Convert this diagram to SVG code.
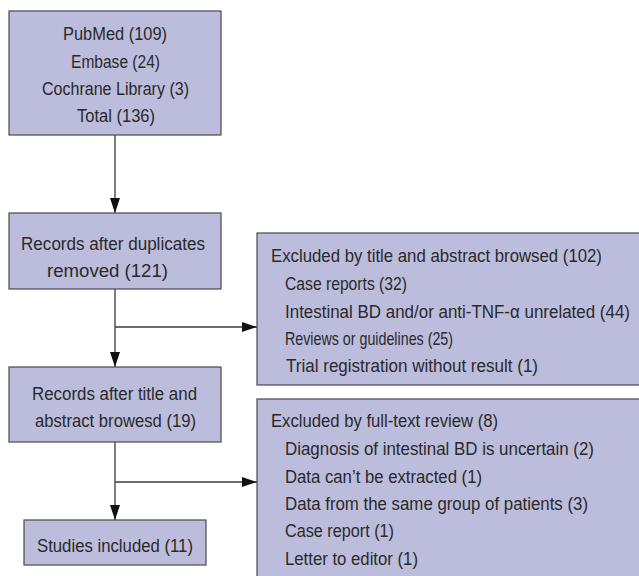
<svg xmlns="http://www.w3.org/2000/svg" width="639" height="576" viewBox="0 0 639 576">
<defs>
<style>
.box{fill:#bcbcdc;stroke:#4a4a4a;stroke-width:1.2}
text{font-family:"Liberation Sans",Arial,sans-serif;font-size:18.5px;fill:#2a2a2a}
.c{text-anchor:middle}
.ln{stroke:#3a3a3a;stroke-width:1.3;fill:none}
</style>
<marker id="ah" markerWidth="15" markerHeight="10" refX="15" refY="5" orient="auto" markerUnits="userSpaceOnUse" viewBox="0 0 15 10">
<path d="M0,0 L15,5 L0,10 Z" fill="#111"/>
</marker>
</defs>
<rect width="639" height="576" fill="#fff"/>
<g id="connectors">
<line class="ln" x1="115" y1="135" x2="115" y2="213" marker-end="url(#ah)"/>
<line class="ln" x1="115" y1="289" x2="115" y2="367" marker-end="url(#ah)"/>
<line class="ln" x1="115" y1="327" x2="257" y2="327" marker-end="url(#ah)"/>
<line class="ln" x1="115" y1="442" x2="115" y2="520" marker-end="url(#ah)"/>
<line class="ln" x1="115" y1="482" x2="257" y2="482" marker-end="url(#ah)"/>
</g>
<g id="sources">
<rect class="box" x="9" y="11" width="212" height="124"/>
<text class="c" transform="translate(115,40) scale(0.88,1)" textLength="118.2" lengthAdjust="spacingAndGlyphs">PubMed (109)</text>
<text class="c" transform="translate(115.5,68) scale(0.88,1)" textLength="101.1" lengthAdjust="spacingAndGlyphs">Embase (24)</text>
<text class="c" transform="translate(115.5,95) scale(0.88,1)" textLength="167" lengthAdjust="spacingAndGlyphs">Cochrane Library (3)</text>
<text class="c" transform="translate(116,122) scale(0.88,1)" textLength="88.6" lengthAdjust="spacingAndGlyphs">Total (136)</text>
</g>
<g id="dedup">
<rect class="box" x="9" y="213" width="212" height="76"/>
<text class="c" transform="translate(113,250) scale(0.88,1)" textLength="209" lengthAdjust="spacingAndGlyphs">Records after duplicates</text>
<text class="c" transform="translate(107.5,277) scale(0.88,1)" textLength="137.5" lengthAdjust="spacingAndGlyphs">removed (121)</text>
</g>
<g id="screened">
<rect class="box" x="9" y="367" width="212" height="75"/>
<text class="c" transform="translate(114.5,400) scale(0.88,1)" textLength="187.5" lengthAdjust="spacingAndGlyphs">Records after title and</text>
<text class="c" transform="translate(115.5,427) scale(0.88,1)" textLength="183" lengthAdjust="spacingAndGlyphs">abstract browesd (19)</text>
</g>
<g id="included">
<rect class="box" x="24" y="520" width="182" height="45"/>
<text class="c" transform="translate(115,552) scale(0.88,1)" textLength="177.3" lengthAdjust="spacingAndGlyphs">Studies included (11)</text>
</g>
<g id="excluded1">
<rect class="box" x="257" y="233" width="400" height="152"/>
<text transform="translate(271,262) scale(0.88,1)" textLength="376.1" lengthAdjust="spacingAndGlyphs">Excluded by title and abstract browsed (102)</text>
<text transform="translate(285,290) scale(0.88,1)" textLength="138.6" lengthAdjust="spacingAndGlyphs">Case reports (32)</text>
<text transform="translate(285,318) scale(0.88,1)" textLength="392" lengthAdjust="spacingAndGlyphs">Intestinal BD and/or anti-TNF-α unrelated (44)</text>
<text transform="translate(285,345) scale(0.78,1)" textLength="215.4" lengthAdjust="spacingAndGlyphs">Reviews or guidelines (25)</text>
<text transform="translate(286,372) scale(0.88,1)" textLength="286.4" lengthAdjust="spacingAndGlyphs">Trial registration without result (1)</text>
</g>
<g id="excluded2">
<rect class="box" x="257" y="399" width="400" height="200"/>
<text transform="translate(271,427) scale(0.88,1)" textLength="258" lengthAdjust="spacingAndGlyphs">Excluded by full-text review (8)</text>
<text transform="translate(285,455) scale(0.88,1)" textLength="351.1" lengthAdjust="spacingAndGlyphs">Diagnosis of intestinal BD is uncertain (2)</text>
<text transform="translate(285,483) scale(0.88,1)" textLength="223.9" lengthAdjust="spacingAndGlyphs">Data can’t be extracted (1)</text>
<text transform="translate(285,510) scale(0.88,1)" textLength="344.3" lengthAdjust="spacingAndGlyphs">Data from the same group of patients (3)</text>
<text transform="translate(285,537) scale(0.88,1)" textLength="123.9" lengthAdjust="spacingAndGlyphs">Case report (1)</text>
<text transform="translate(285,565) scale(0.88,1)" textLength="151.1" lengthAdjust="spacingAndGlyphs">Letter to editor (1)</text>
</g>
</svg>
